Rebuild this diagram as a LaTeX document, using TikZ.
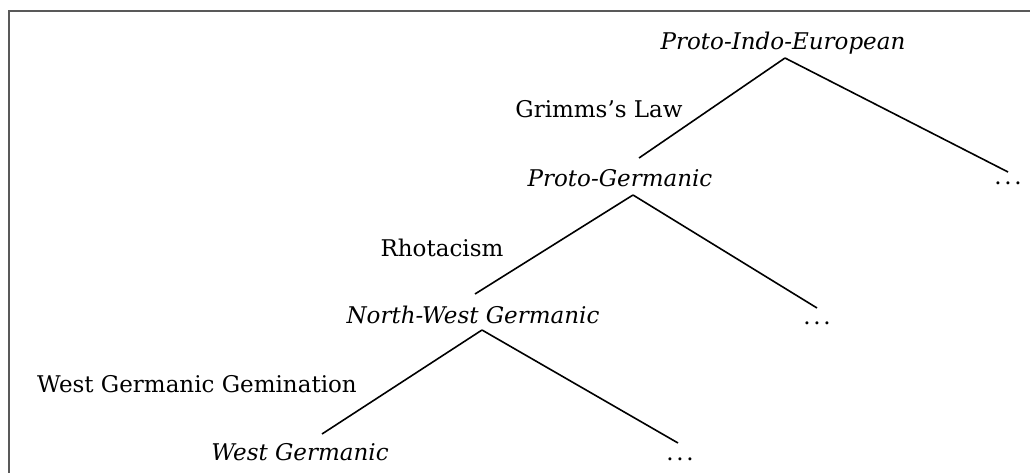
\documentclass[tikz,border=0pt]{standalone}
\usepackage{fontspec}
\setmainfont{DejaVu Serif}
\usetikzlibrary{calc}
\newcommand{\moredots}{.\kern2.6pt.\kern2.6pt.}
\begin{document}
\begin{tikzpicture}[x=1pt,y=-1pt,
  lang/.style={inner sep=0pt,anchor=base,font=\fontsize{23}{28}\selectfont\itshape},
  change/.style={inner sep=0pt,anchor=base,font=\fontsize{23}{28}\selectfont},
  more/.style={inner sep=0pt,anchor=base,font=\fontsize{23}{28}\selectfont},
  branch/.style={line width=1.6pt,black},
  frame/.style={line width=2pt,black!65}]
\useasboundingbox (0,0) rectangle (1030,473);
\draw[frame] (8.5,473) -- (8.5,11.5) -- (1030,11.5);

% language nodes
\node[lang] (pie) at (783,50) {Proto-Indo-European};
\node[lang] (pg)  at (620,186) {Proto-Germanic};
\node[lang] (nwg) at (473,323) {North-West Germanic};
\node[lang] (wg)  at (300,460) {West Germanic};

% unnamed sister branches
\node[more] (d1) at (1008,185) {\moredots};
\node[more] (d2) at (817,324) {\moredots};
\node[more] (d3) at (680,460) {\moredots};

% sound changes on the left branches
\node[change] (grimm) at (599,118) {Grimms's Law};
\node[change] (rhot)  at (442,256) {Rhotacism};
\node[change] (wgg)   at (197,392) {West Germanic Gemination};

% branches
\draw[branch] ($(pie.base)+(2,8)$) -- ($(pg.base)+(19,-28)$);
\draw[branch] ($(pie.base)+(2,8)$) -- ($(d1.base)+(0,-13)$);
\draw[branch] ($(pg.base)+(13,9)$) -- ($(nwg.base)+(2,-29)$);
\draw[branch] ($(pg.base)+(13,9)$) -- ($(d2.base)+(0,-16)$);
\draw[branch] ($(nwg.base)+(9,7)$) -- ($(wg.base)+(22,-26)$);
\draw[branch] ($(nwg.base)+(9,7)$) -- ($(d3.base)+(-2,-17)$);
\end{tikzpicture}
\end{document}
